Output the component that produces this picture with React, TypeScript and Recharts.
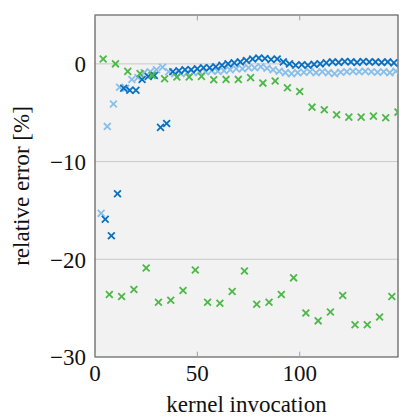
import React from 'react';
import { ScatterChart, Scatter, XAxis, YAxis, CartesianGrid, ReferenceArea, ReferenceLine } from 'recharts';

const xTicks = [0, 50, 100];
const yTicks = [-30, -20, -10, 0];

const lightBlueX = [3, 6, 9, 12, 15, 18, 21, 24, 27, 30, 33, 36, 39, 42, 45, 48, 51, 54, 57, 60, 63, 66, 69, 72, 75, 78, 81, 84, 87, 90, 93, 96, 99, 102, 105, 108, 111, 114, 117, 120, 123, 126, 129, 132, 135, 138, 141, 144, 147];
const lightBlueY = [-15.3, -6.4, -4.1, -2.4, -2.5, -1.6, -1.4, -0.9, -0.8, -0.6, -0.35, -0.8, -1.0, -1.0, -0.9, -0.9, -0.8, -0.8, -0.7, -0.75, -0.7, -0.6, -0.5, -0.5, -0.4, -0.4, -0.3, -0.45, -0.6, -0.75, -0.9, -1.0, -0.9, -0.85, -0.8, -0.9, -0.8, -0.9, -1.0, -0.85, -0.8, -0.75, -0.8, -0.75, -0.8, -0.85, -0.8, -0.9, -0.75];

const darkBlueX = [5, 8, 11, 14, 17, 20, 23, 26, 29, 32, 35, 38, 41, 44, 47, 50, 53, 56, 59, 62, 65, 68, 71, 74, 77, 80, 83, 86, 89, 92, 95, 98, 101, 104, 107, 110, 113, 116, 119, 122, 125, 128, 131, 134, 137, 140, 143, 146];
const darkBlueY = [-15.9, -17.6, -13.3, -2.5, -2.7, -2.7, -1.6, -1.3, -1.2, -6.5, -6.1, -0.8, -0.7, -0.6, -0.6, -0.5, -0.4, -0.4, -0.3, -0.15, 0.0, 0.1, 0.2, 0.35, 0.5, 0.6, 0.55, 0.45, 0.5, 0.2, 0.0, -0.15, -0.1, -0.15, -0.05, 0.0, 0.1, 0.2, 0.15, 0.25, 0.2, 0.15, 0.25, 0.2, 0.2, 0.15, 0.2, 0.1];

const greenX = [4, 7, 10, 13, 16, 19, 22, 25, 28, 31, 34, 37, 40, 43, 46, 49, 52, 55, 58, 61, 64, 67, 70, 73, 76, 79, 82, 85, 88, 91, 94, 97, 100, 103, 106, 109, 112, 115, 118, 121, 124, 127, 130, 133, 136, 139, 142, 145, 148];
const greenY = [0.5, -23.6, 0.0, -23.8, -0.77, -23.1, -1.0, -20.9, -1.18, -24.4, -1.52, -24.2, -1.35, -23.2, -1.35, -21.1, -1.28, -24.4, -1.62, -24.5, -1.59, -23.3, -1.59, -21.2, -1.41, -24.6, -1.97, -24.4, -1.76, -23.6, -2.44, -21.9, -2.82, -25.5, -4.43, -26.3, -4.69, -25.4, -5.2, -23.7, -5.45, -26.7, -5.45, -26.7, -5.35, -25.9, -5.51, -23.8, -4.94];

const zip = (xs: number[], ys: number[]) => xs.map((x, i) => ({ x, y: ys[i] }));
const lightBlueData = zip(lightBlueX, lightBlueY);
const darkBlueData = zip(darkBlueX, darkBlueY);
const greenData = zip(greenX, greenY);

const X_MAX = 148;
const Y_MIN = -30;
const Y_MAX = 5;

const makeCross = (color: string) => (props: any) => {
  const { cx, cy } = props;
  if (cx == null || cy == null) return <g />;
  const s = 3.4;
  return (
    <g>
      <line x1={cx - s} y1={cy - s} x2={cx + s} y2={cy + s} stroke={color} strokeWidth={1.8} />
      <line x1={cx - s} y1={cy + s} x2={cx + s} y2={cy - s} stroke={color} strokeWidth={1.8} />
    </g>
  );
};

const fmt = (v: number) => (v < 0 ? '\u2212' + Math.abs(v) : String(v));
const FONT = '"Liberation Serif", "Times New Roman", serif';

const XTick = (props: any) => {
  const { x, y, payload } = props;
  return (
    <text x={x} y={y} dy="0.71em" textAnchor="middle" fill="#111" fontSize={23} fontFamily={FONT}>
      {fmt(payload.value)}
    </text>
  );
};

const YTick = (props: any) => {
  const { x, y, payload } = props;
  return (
    <text x={x} y={y} dy="0.36em" textAnchor="end" fill="#111" fontSize={23} fontFamily={FONT}>
      {fmt(payload.value)}
    </text>
  );
};

export default function App() {
  return (
    <div style={{ position: 'absolute', left: 0, top: 0, fontFamily: FONT }}>
      <ScatterChart width={402} height={419} margin={{ top: 15, right: 4, bottom: 0, left: 0 }}>
        <CartesianGrid vertical={false} horizontal={true} stroke="#c9c9c9" fill="#f2f2f2" />
        <XAxis
          type="number"
          dataKey="x"
          domain={[0, X_MAX]}
          ticks={xTicks}
          allowDataOverflow
          axisLine={false}
          tickLine={false}
          tickSize={0}
          tickMargin={8}
          height={62}
          tick={XTick}
          label={{ value: 'kernel invocation', position: 'insideBottom', offset: 7, fill: '#111', fontSize: 23, fontFamily: FONT }}
        />
        <YAxis
          type="number"
          dataKey="y"
          domain={[Y_MIN, Y_MAX]}
          ticks={yTicks}
          allowDataOverflow
          axisLine={false}
          tickLine={false}
          tickSize={0}
          tickMargin={9}
          width={95}
          tick={YTick}
          label={{ value: 'relative error [%]', angle: -90, position: 'insideLeft', offset: 21, fill: '#111', fontSize: 23, fontFamily: FONT, style: { textAnchor: 'middle' } }}
        />
        {xTicks.map((t) => (
          <ReferenceLine key={'b' + t} segment={[{ x: t, y: Y_MIN }, { x: t, y: Y_MIN + 0.55 }]} stroke="#a0a0a0" strokeWidth={1} ifOverflow="visible" />
        ))}
        {xTicks.map((t) => (
          <ReferenceLine key={'t' + t} segment={[{ x: t, y: Y_MAX }, { x: t, y: Y_MAX - 0.55 }]} stroke="#a0a0a0" strokeWidth={1} ifOverflow="visible" />
        ))}
        <Scatter data={lightBlueData} shape={makeCross('#88bfea')} isAnimationActive={false} />
        <Scatter data={darkBlueData} shape={makeCross('#0a70c2')} isAnimationActive={false} />
        <Scatter data={greenData} shape={makeCross('#4db848')} isAnimationActive={false} />
        <ReferenceArea x1={0} x2={X_MAX} y1={Y_MIN} y2={Y_MAX} fill="none" fillOpacity={0} stroke="#5a5a5a" strokeWidth={1.2} ifOverflow="visible" />
      </ScatterChart>
    </div>
  );
}
